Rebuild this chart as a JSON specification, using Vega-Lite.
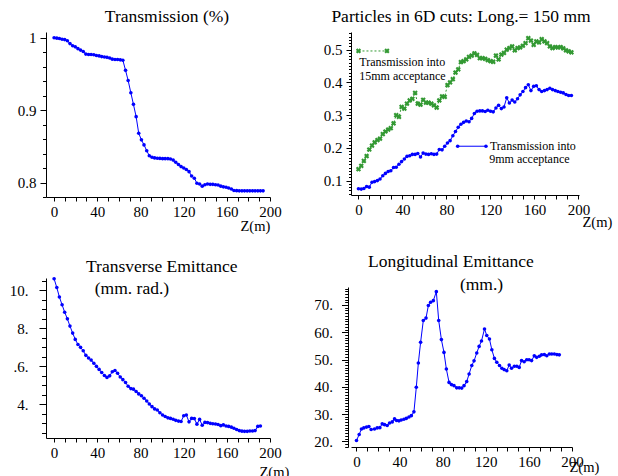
{
  "$schema": "https://vega.github.io/schema/vega-lite/v6.json",
  "padding": {"left": 9, "top": 8, "right": 2, "bottom": 0},
  "bounds": "flush",
  "align": "each",
  "columns": 2,
  "spacing": {"row": 81, "column": 81},
  "config": {
    "view": {"stroke": null},
    "font": "Liberation Serif",
    "axis": {"grid": false, "domainColor": "#000", "tickColor": "#000", "labelColor": "#000", "labelFont": "Liberation Serif", "labelFontSize": 15, "titleFont": "Liberation Serif", "titleFontSize": 14.5, "titleFontWeight": "normal", "titleColor": "#000", "domainWidth": 1, "tickWidth": 1, "labelFlush": false, "labelOverlap": false},
    "title": {"font": "Liberation Serif", "fontSize": 17.5, "fontWeight": "normal", "color": "#000", "subtitleFont": "Liberation Serif", "subtitleFontSize": 17.5, "subtitleColor": "#000"}
  },
  "datasets": {
    "d1": [
      {"z":0.0,"tr":1.000,"c15":0.135,"c9":0.075},
      {"z":2.5,"tr":0.9995,"c15":0.145,"c9":0.074},
      {"z":4.9,"tr":0.999,"c15":0.160,"c9":0.076},
      {"z":7.4,"tr":0.998,"c15":0.175,"c9":0.082},
      {"z":9.8,"tr":0.9975,"c15":0.195,"c9":0.080},
      {"z":12.3,"tr":0.996,"c15":0.207,"c9":0.095},
      {"z":14.7,"tr":0.992,"c15":0.217,"c9":0.097},
      {"z":17.2,"tr":0.989,"c15":0.224,"c9":0.100},
      {"z":19.6,"tr":0.9875,"c15":0.228,"c9":0.105},
      {"z":22.1,"tr":0.985,"c15":0.242,"c9":0.115},
      {"z":24.5,"tr":0.983,"c15":0.250,"c9":0.122},
      {"z":27.0,"tr":0.981,"c15":0.256,"c9":0.128},
      {"z":29.4,"tr":0.9775,"c15":0.260,"c9":0.130},
      {"z":31.9,"tr":0.977,"c15":0.275,"c9":0.140},
      {"z":34.3,"tr":0.977,"c15":0.300,"c9":0.141},
      {"z":36.8,"tr":0.9765,"c15":0.295,"c9":0.150},
      {"z":39.2,"tr":0.9755,"c15":0.325,"c9":0.158},
      {"z":41.7,"tr":0.975,"c15":0.320,"c9":0.166},
      {"z":44.1,"tr":0.974,"c15":0.335,"c9":0.174},
      {"z":46.6,"tr":0.9735,"c15":0.345,"c9":0.176},
      {"z":49.0,"tr":0.973,"c15":0.350,"c9":0.180},
      {"z":51.5,"tr":0.972,"c15":0.368,"c9":0.180},
      {"z":53.9,"tr":0.9705,"c15":0.335,"c9":0.183},
      {"z":56.4,"tr":0.970,"c15":0.332,"c9":0.172},
      {"z":58.8,"tr":0.970,"c15":0.347,"c9":0.184},
      {"z":61.3,"tr":0.9695,"c15":0.338,"c9":0.181},
      {"z":63.7,"tr":0.969,"c15":0.338,"c9":0.180},
      {"z":66.2,"tr":0.955,"c15":0.335,"c9":0.182},
      {"z":68.6,"tr":0.941,"c15":0.330,"c9":0.180},
      {"z":71.1,"tr":0.924,"c15":0.323,"c9":0.181},
      {"z":73.5,"tr":0.908,"c15":0.345,"c9":0.195},
      {"z":76.0,"tr":0.891,"c15":0.357,"c9":0.194},
      {"z":78.4,"tr":0.868,"c15":0.356,"c9":0.205},
      {"z":80.9,"tr":0.859,"c15":0.392,"c9":0.215},
      {"z":83.3,"tr":0.852,"c15":0.400,"c9":0.222},
      {"z":85.8,"tr":0.844,"c15":0.410,"c9":0.237},
      {"z":88.2,"tr":0.837,"c15":0.430,"c9":0.250},
      {"z":90.7,"tr":0.835,"c15":0.440,"c9":0.263},
      {"z":93.1,"tr":0.834,"c15":0.462,"c9":0.272},
      {"z":95.6,"tr":0.8335,"c15":0.465,"c9":0.278},
      {"z":98.0,"tr":0.8333,"c15":0.470,"c9":0.282},
      {"z":100.5,"tr":0.833,"c15":0.478,"c9":0.280},
      {"z":102.9,"tr":0.833,"c15":0.482,"c9":0.290},
      {"z":105.4,"tr":0.833,"c15":0.489,"c9":0.305},
      {"z":107.8,"tr":0.8325,"c15":0.484,"c9":0.312},
      {"z":110.3,"tr":0.831,"c15":0.474,"c9":0.313},
      {"z":112.7,"tr":0.828,"c15":0.474,"c9":0.313},
      {"z":115.2,"tr":0.825,"c15":0.472,"c9":0.311},
      {"z":117.6,"tr":0.822,"c15":0.468,"c9":0.315},
      {"z":120.1,"tr":0.820,"c15":0.465,"c9":0.312},
      {"z":122.5,"tr":0.818,"c15":0.463,"c9":0.310},
      {"z":125.0,"tr":0.815,"c15":0.482,"c9":0.322},
      {"z":127.4,"tr":0.809,"c15":0.470,"c9":0.330},
      {"z":129.9,"tr":0.806,"c15":0.485,"c9":0.320},
      {"z":132.3,"tr":0.799,"c15":0.490,"c9":0.325},
      {"z":134.8,"tr":0.798,"c15":0.500,"c9":0.353},
      {"z":137.2,"tr":0.795,"c15":0.505,"c9":0.337},
      {"z":139.7,"tr":0.797,"c15":0.510,"c9":0.346},
      {"z":142.1,"tr":0.798,"c15":0.498,"c9":0.340},
      {"z":144.6,"tr":0.7975,"c15":0.505,"c9":0.350},
      {"z":147.0,"tr":0.7975,"c15":0.507,"c9":0.362},
      {"z":149.5,"tr":0.797,"c15":0.512,"c9":0.372},
      {"z":151.9,"tr":0.7965,"c15":0.520,"c9":0.384},
      {"z":154.4,"tr":0.795,"c15":0.535,"c9":0.393},
      {"z":156.8,"tr":0.794,"c15":0.528,"c9":0.375},
      {"z":159.3,"tr":0.7935,"c15":0.515,"c9":0.388},
      {"z":161.7,"tr":0.7925,"c15":0.525,"c9":0.390},
      {"z":164.2,"tr":0.791,"c15":0.522,"c9":0.378},
      {"z":166.6,"tr":0.789,"c15":0.532,"c9":0.372},
      {"z":169.1,"tr":0.7888,"c15":0.525,"c9":0.375},
      {"z":171.5,"tr":0.7885,"c15":0.520,"c9":0.378},
      {"z":174.0,"tr":0.7885,"c15":0.510,"c9":0.382},
      {"z":176.4,"tr":0.7885,"c15":0.505,"c9":0.378},
      {"z":178.9,"tr":0.7885,"c15":0.508,"c9":0.375},
      {"z":181.3,"tr":0.7885,"c15":0.507,"c9":0.372},
      {"z":183.8,"tr":0.7885,"c15":0.508,"c9":0.370},
      {"z":186.2,"tr":0.7885,"c15":0.504,"c9":0.368},
      {"z":188.7,"tr":0.7885,"c15":0.498,"c9":0.363},
      {"z":191.1,"tr":0.7885,"c15":0.495,"c9":0.360},
      {"z":193.6,"tr":0.7885,"c15":0.492,"c9":0.360}
    ],
    "d3": [
      {"z":0.0,"te":10.61},{"z":2.5,"te":10.15},{"z":4.9,"te":9.65},{"z":7.4,"te":9.24},{"z":9.8,"te":8.85},
      {"z":12.3,"te":8.50},{"z":14.7,"te":8.12},{"z":17.2,"te":7.75},{"z":19.6,"te":7.42},{"z":22.1,"te":7.15},
      {"z":24.5,"te":7.00},{"z":27.0,"te":6.82},{"z":29.4,"te":6.58},{"z":31.9,"te":6.44},{"z":34.3,"te":6.33},
      {"z":36.8,"te":6.16},{"z":39.2,"te":6.00},{"z":41.7,"te":5.84},{"z":44.1,"te":5.68},{"z":46.6,"te":5.52},
      {"z":49.0,"te":5.42},{"z":51.5,"te":5.50},{"z":53.9,"te":5.72},{"z":56.4,"te":5.78},{"z":58.8,"te":5.64},
      {"z":61.3,"te":5.44},{"z":63.7,"te":5.30},{"z":66.2,"te":5.15},{"z":68.6,"te":4.95},{"z":71.1,"te":4.83},
      {"z":73.5,"te":4.80},{"z":76.0,"te":4.68},{"z":78.4,"te":4.55},{"z":80.9,"te":4.45},{"z":83.3,"te":4.32},
      {"z":85.8,"te":4.18},{"z":88.2,"te":4.02},{"z":90.7,"te":3.88},{"z":93.1,"te":3.76},{"z":95.6,"te":3.70},
      {"z":98.0,"te":3.56},{"z":100.5,"te":3.44},{"z":102.9,"te":3.36},{"z":105.4,"te":3.29},{"z":107.8,"te":3.26},
      {"z":110.3,"te":3.22},{"z":112.7,"te":3.16},{"z":115.2,"te":3.12},{"z":117.6,"te":3.10},{"z":120.1,"te":3.40},
      {"z":122.5,"te":3.44},{"z":125.0,"te":3.08},{"z":127.4,"te":3.26},{"z":129.9,"te":3.25},{"z":132.3,"te":2.96},
      {"z":134.8,"te":3.21},{"z":137.2,"te":2.90},{"z":139.7,"te":3.05},{"z":142.1,"te":3.04},{"z":144.6,"te":3.00},
      {"z":147.0,"te":2.98},{"z":149.5,"te":2.97},{"z":151.9,"te":2.94},{"z":154.4,"te":2.88},{"z":156.8,"te":2.92},
      {"z":159.3,"te":2.86},{"z":161.7,"te":2.84},{"z":164.2,"te":2.80},{"z":166.6,"te":2.74},{"z":169.1,"te":2.68},
      {"z":171.5,"te":2.62},{"z":174.0,"te":2.59},{"z":176.4,"te":2.58},{"z":178.9,"te":2.58},{"z":181.3,"te":2.60},
      {"z":183.8,"te":2.60},{"z":186.2,"te":2.62},{"z":188.7,"te":2.84},{"z":191.1,"te":2.86}
    ],
    "d4": [
      {"z":0.0,"le":20.3},{"z":2.5,"le":22.5},{"z":4.6,"le":24.5},{"z":6.8,"le":24.9},{"z":9.3,"le":25.2},
      {"z":11.5,"le":25.4},{"z":13.6,"le":24.3},{"z":16.7,"le":24.5},{"z":19.2,"le":24.9},{"z":21.7,"le":25.0},
      {"z":23.9,"le":26.4},{"z":26.0,"le":26.1},{"z":28.5,"le":25.8},{"z":30.7,"le":26.7},{"z":33.2,"le":27.1},
      {"z":35.3,"le":28.2},{"z":37.2,"le":27.6},{"z":39.4,"le":27.5},{"z":41.5,"le":27.8},{"z":44.0,"le":28.1},
      {"z":46.2,"le":28.4},{"z":48.7,"le":28.9},{"z":50.9,"le":29.4},{"z":53.3,"le":30.8},{"z":55.5,"le":39.8},
      {"z":57.4,"le":48.7},{"z":59.5,"le":56.3},{"z":62.0,"le":64.3},{"z":64.5,"le":65.2},{"z":66.7,"le":69.8},
      {"z":68.8,"le":71.0},{"z":71.3,"le":71.6},{"z":74.1,"le":74.9},{"z":76.3,"le":64.3},{"z":78.8,"le":57.3},
      {"z":81.2,"le":52.6},{"z":83.4,"le":46.5},{"z":85.9,"le":41.6},{"z":88.1,"le":40.8},{"z":90.5,"le":40.4},
      {"z":93.0,"le":39.6},{"z":95.3,"le":39.6},{"z":97.7,"le":39.5},{"z":99.8,"le":40.4},{"z":102.3,"le":41.9},
      {"z":104.5,"le":44.7},{"z":107.0,"le":47.8},{"z":109.1,"le":49.5},{"z":111.6,"le":52.4},{"z":113.8,"le":54.8},
      {"z":116.0,"le":56.8},{"z":118.8,"le":61.2},{"z":120.9,"le":58.8},{"z":123.4,"le":57.5},{"z":125.6,"le":53.6},
      {"z":128.0,"le":50.4},{"z":130.2,"le":49.0},{"z":132.7,"le":47.8},{"z":134.9,"le":46.8},{"z":137.0,"le":46.3},
      {"z":139.5,"le":45.9},{"z":141.7,"le":48.0},{"z":143.9,"le":46.8},{"z":146.5,"le":47.5},{"z":148.8,"le":47.5},
      {"z":151.0,"le":47.1},{"z":153.2,"le":49.6},{"z":155.6,"le":49.2},{"z":158.0,"le":49.9},{"z":160.2,"le":49.9},
      {"z":162.5,"le":49.6},{"z":165.0,"le":51.4},{"z":167.2,"le":50.8},{"z":169.7,"le":51.2},{"z":171.8,"le":51.7},
      {"z":174.3,"le":51.8},{"z":176.6,"le":51.4},{"z":179.0,"le":52.0},{"z":181.2,"le":52.0},{"z":183.6,"le":52.0},
      {"z":186.0,"le":51.8},{"z":188.2,"le":51.7}
    ],
    "leg15": [{"z":0,"v":0.496},{"z":25.9,"v":0.496}],
    "leg15t": [{"z":0.7,"v":0.449,"t":"Transmission into"},{"z":0.7,"v":0.408,"t":"15mm acceptance"}],
    "leg9": [{"z":90.2,"v":0.205},{"z":115.9,"v":0.205}],
    "leg9t": [{"z":119.5,"v":0.194,"t":"Transmission into"},{"z":118.9,"v":0.153,"t":"9mm acceptance"}]
  },
  "concat": [
    {
      "width": 224, "height": 165,
      "title": {"text": "Transmission (%)", "anchor": "middle", "frame": "group", "dx": 9, "offset": -9, "baseline": "alphabetic"},
      "data": {"name": "d1"},
      "mark": {"type": "line", "color": "#0000ff", "strokeWidth": 1, "point": {"filled": true, "size": 13, "color": "#0000ff"}},
      "encoding": {
        "x": {"field": "z", "type": "quantitative", "scale": {"domain": [-7.5, 200], "nice": false, "zero": false},
          "axis": {"values": [0,10,20,30,40,50,60,70,80,90,100,110,120,130,140,150,160,170,180,190,200], "labelExpr": "datum.value % 40 === 0 ? '' + datum.value : ''", "tickSize": 4, "labelPadding": 3, "title": "Z(m)", "titleX": 194, "titleY": 33, "titleAlign": "left", "titleBaseline": "alphabetic"}},
        "y": {"field": "tr", "type": "quantitative", "scale": {"domain": [0.78, 1.008], "nice": false, "zero": false},
          "axis": {"values": [0.78,0.8,0.82,0.84,0.86,0.88,0.9,0.92,0.94,0.96,0.98,1.0], "labelExpr": "abs(datum.value*10 - round(datum.value*10)) < 0.001 ? (datum.value > 0.999 ? '1' : format(datum.value, '.1f')) : ''", "tickSize": {"condition": {"test": "abs(datum.value*10 - round(datum.value*10)) < 0.001", "value": 6}, "value": 3.5}, "labelPadding": 4, "title": null}}
      }
    },
    {
      "width": 228, "height": 163,
      "title": {"text": "Particles in 6D cuts: Long.= 150 mm", "anchor": "middle", "frame": "group", "dx": -4, "offset": -13.5, "baseline": "alphabetic"},
      "encoding": {
        "x": {"field": "z", "type": "quantitative", "scale": {"domain": [-6.8, 200.5], "nice": false, "zero": false},
          "axis": {"values": [0,10,20,30,40,50,60,70,80,90,100,110,120,130,140,150,160,170,180,190,200], "labelExpr": "datum.value % 40 === 0 ? '' + datum.value : ''", "tickSize": 4, "labelPadding": 3, "title": "Z(m)", "titleX": 231, "titleY": 31, "titleAlign": "left", "titleBaseline": "alphabetic"}},
        "y": {"field": "v", "type": "quantitative", "scale": {"domain": [0.056, 0.554], "nice": false, "zero": false},
          "axis": {"values": [0.06,0.07,0.08,0.09,0.1,0.11,0.12,0.13,0.14,0.15,0.16,0.17,0.18,0.19,0.2,0.21,0.22,0.23,0.24,0.25,0.26,0.27,0.28,0.29,0.3,0.31,0.32,0.33,0.34,0.35,0.36,0.37,0.38,0.39,0.4,0.41,0.42,0.43,0.44,0.45,0.46,0.47,0.48,0.49,0.5,0.51,0.52,0.53,0.54,0.55], "labelExpr": "abs(datum.value*10 - round(datum.value*10)) < 0.001 ? format(datum.value, '.1f') : ''", "tickSize": {"condition": {"test": "abs(datum.value*10 - round(datum.value*10)) < 0.001", "value": 5}, "value": 2.5}, "labelPadding": 4, "title": null}}
      },
      "layer": [
        {
          "data": {"name": "d1"},
          "transform": [{"fold": ["c15", "c9"], "as": ["s", "v"]}, {"filter": "datum.s === 'c15'"}],
          "mark": {"type": "line", "color": "#339933", "strokeWidth": 1, "strokeDash": [2, 2], "point": {"filled": true, "size": 28, "shape": "cross", "angle": 45, "color": "#339933"}}
        },
        {
          "data": {"name": "d1"},
          "transform": [{"fold": ["c15", "c9"], "as": ["s", "v"]}, {"filter": "datum.s === 'c9'"}],
          "mark": {"type": "line", "color": "#0000ff", "strokeWidth": 1, "point": {"filled": true, "size": 13, "color": "#0000ff"}}
        },
        {
          "data": {"name": "leg15"},
          "mark": {"type": "line", "color": "#339933", "strokeWidth": 1, "strokeDash": [2, 2], "point": {"filled": true, "size": 28, "shape": "cross", "angle": 45, "color": "#339933"}}
        },
        {
          "data": {"name": "leg15t"},
          "mark": {"type": "text", "align": "left", "baseline": "alphabetic", "font": "Liberation Serif", "fontSize": 12, "color": "#000"},
          "encoding": {"text": {"field": "t"}}
        },
        {
          "data": {"name": "leg9"},
          "mark": {"type": "line", "color": "#0000ff", "strokeWidth": 1, "point": {"filled": true, "size": 13, "color": "#0000ff"}}
        },
        {
          "data": {"name": "leg9t"},
          "mark": {"type": "text", "align": "left", "baseline": "alphabetic", "font": "Liberation Serif", "fontSize": 12, "color": "#000"},
          "encoding": {"text": {"field": "t"}}
        }
      ]
    },
    {
      "width": 224, "height": 160,
      "title": {"text": "Transverse Emittance", "subtitle": "\u200d\u00a0\u00a0(mm. rad.)", "anchor": "start", "frame": "group", "dx": 40, "offset": -24, "subtitlePadding": 5},
      "data": {"name": "d3"},
      "mark": {"type": "line", "color": "#0000ff", "strokeWidth": 1, "point": {"filled": true, "size": 13, "color": "#0000ff"}},
      "encoding": {
        "x": {"field": "z", "type": "quantitative", "scale": {"domain": [-7.5, 200], "nice": false, "zero": false},
          "axis": {"values": [0,10,20,30,40,50,60,70,80,90,100,110,120,130,140,150,160,170,180,190,200], "labelExpr": "datum.value % 40 === 0 ? '' + datum.value : ''", "tickSize": 4, "labelPadding": 3, "title": "Z(m)", "titleX": 213, "titleY": 38, "titleAlign": "left", "titleBaseline": "alphabetic"}},
        "y": {"field": "te", "type": "quantitative", "scale": {"domain": [2.23, 10.65], "nice": false, "zero": false},
          "axis": {"values": [2.5,3,3.5,4,4.5,5,5.5,6,6.5,7,7.5,8,8.5,9,9.5,10,10.5], "labelExpr": "datum.value % 2 === 0 && datum.value >= 4 ? (datum.value === 6 ? '.6.' : datum.value + '.') : ''", "tickSize": {"condition": {"test": "datum.value % 2 === 0 && datum.value >= 4", "value": 7}, "value": 4.5}, "labelPadding": 11, "title": null}}
      }
    },
    {
      "width": 221, "height": 169,
      "title": {"text": "Longitudinal Emittance", "subtitle": "\u200d\u00a0\u00a0\u00a0\u00a0\u00a0\u00a0\u00a0\u00a0\u00a0\u00a0\u00a0\u00a0\u00a0\u00a0\u00a0\u00a0\u00a0\u00a0\u00a0\u00a0\u00a0(mm.)", "anchor": "start", "frame": "group", "dx": 17, "offset": -15, "subtitlePadding": 5},
      "data": {"name": "d4"},
      "mark": {"type": "line", "color": "#0000ff", "strokeWidth": 1, "point": {"filled": true, "size": 13, "color": "#0000ff"}},
      "encoding": {
        "x": {"field": "z", "type": "quantitative", "scale": {"domain": [-5.1, 200], "nice": false, "zero": false},
          "axis": {"values": [0,10,20,30,40,50,60,70,80,90,100,110,120,130,140,150,160,170,180,190,200], "labelExpr": "datum.value % 40 === 0 ? '' + datum.value : ''", "tickSize": 4, "labelPadding": 3, "title": "Z(m)", "titleX": 218, "titleY": 24, "titleAlign": "left", "titleBaseline": "alphabetic"}},
        "y": {"field": "le", "type": "quantitative", "scale": {"domain": [17.9, 76.6], "nice": false, "zero": false, "range": [169, 9]},
          "axis": {"offset": 3, "values": [18,19,20,21,22,23,24,25,26,27,28,29,30,31,32,33,34,35,36,37,38,39,40,41,42,43,44,45,46,47,48,49,50,51,52,53,54,55,56,57,58,59,60,61,62,63,64,65,66,67,68,69,70,71,72,73,74,75,76], "labelExpr": "datum.value % 10 === 0 ? datum.value + '.' : ''", "tickSize": {"condition": {"test": "datum.value % 10 === 0", "value": 6.5}, "value": 3.3}, "labelPadding": 9, "title": null}}
      }
    }
  ]
}
